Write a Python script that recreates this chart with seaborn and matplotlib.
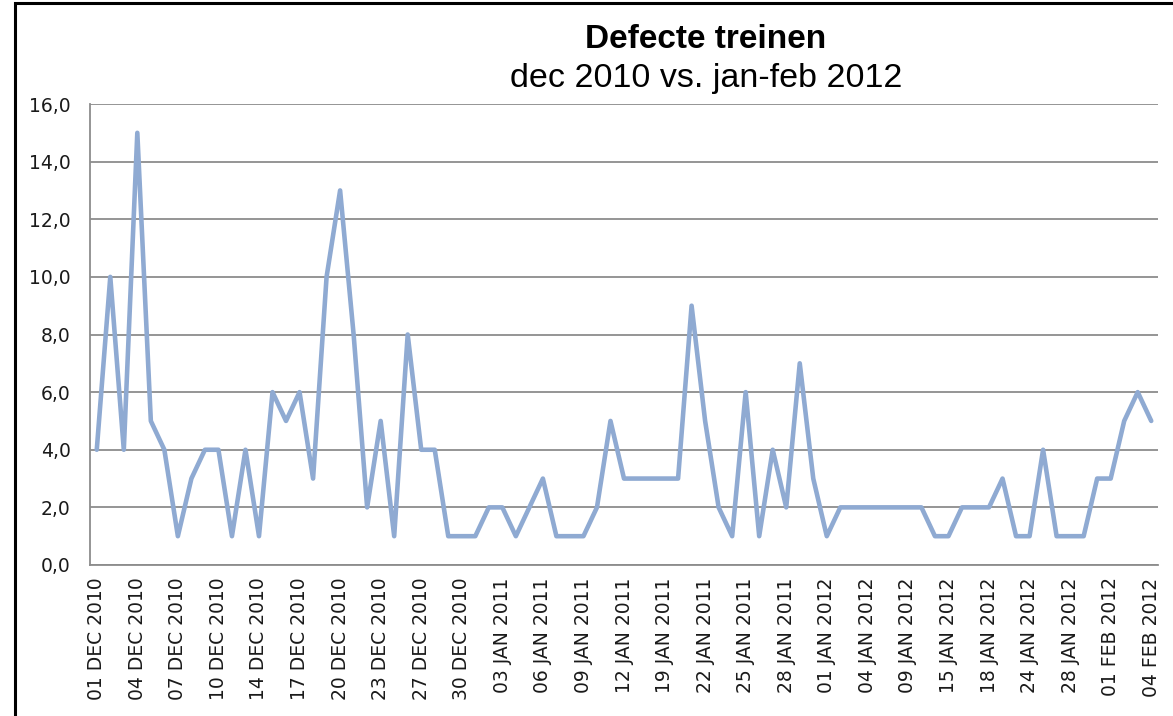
import numpy as np
import pandas as pd
import matplotlib; matplotlib.use("Agg")
import matplotlib.pyplot as plt
import matplotlib.patches as mpatches
from matplotlib.ticker import FuncFormatter, MultipleLocator
import seaborn as sns

# ── DATA ─────────────────────────────────────────────────────────────────────
DEFECTS = [4, 10, 4, 15, 5, 4, 1, 3, 4, 4, 1, 4, 1, 6, 5, 6, 3, 10, 13, 8,
           2, 5, 1, 8, 4, 4, 1, 1, 1, 2, 2, 1, 2, 3, 1, 1, 1, 2, 5, 3,
           3, 3, 3, 3, 9, 5, 2, 1, 6, 1, 4, 2, 7, 3, 1, 2, 2, 2, 2, 2,
           2, 2, 1, 1, 2, 2, 2, 3, 1, 1, 4, 1, 1, 1, 3, 3, 5, 6, 5]
TICK_LABELS = [
    "01 DEC 2010", "04 DEC 2010", "07 DEC 2010", "10 DEC 2010", "14 DEC 2010",
    "17 DEC 2010", "20 DEC 2010", "23 DEC 2010", "27 DEC 2010", "30 DEC 2010",
    "03 JAN 2011", "06 JAN 2011", "09 JAN 2011", "12 JAN 2011", "19 JAN 2011",
    "22 JAN 2011", "25 JAN 2011", "28 JAN 2011", "01 JAN 2012", "04 JAN 2012",
    "09 JAN 2012", "15 JAN 2012", "18 JAN 2012", "24 JAN 2012", "28 JAN 2012",
    "01 FEB 2012", "04 FEB 2012",
]
LABEL_STEP = 3
TITLE = "Defecte treinen"
SUBTITLE = "dec 2010 vs. jan-feb 2012"

LINE = "#8FAAD2"
GRID = "#8C8C8C"

sns.set_style("white")
plt.rcParams["font.family"] = ["DejaVu Sans"]

W, H = 1173, 716
fig = plt.figure(figsize=(W / 100, H / 100), dpi=100)
ax = fig.add_axes([90 / W, 1 - 565 / H, (1158 - 90) / W, (565 - 104) / H])

df = pd.DataFrame({"idx": np.arange(len(DEFECTS)), "defects": DEFECTS})
sns.lineplot(data=df, x="idx", y="defects", ax=ax, color=LINE, linewidth=3.3,
             solid_joinstyle="round", solid_capstyle="round")

n = len(DEFECTS)
ax.set_xlim(-0.5, n - 0.5)
ax.set_ylim(0, 16)
ax.yaxis.set_major_locator(MultipleLocator(2))
ax.yaxis.set_major_formatter(FuncFormatter(lambda v, p: f"{v:.1f}".replace(".", ",")))
ax.grid(axis="y", color=GRID, linewidth=1.3)
ax.set_axisbelow(True)

ax.set_xticks(np.arange(0, n, LABEL_STEP))
ax.set_xticklabels(TICK_LABELS, rotation=90, fontsize=13.5, color="#1a1a1a")
ax.set_xticks(np.arange(-0.5, n, 1), minor=True)
ax.tick_params(axis="x", which="major", length=0, pad=9)
ax.tick_params(axis="x", which="minor", length=7, width=1.2, color=GRID, direction="out")
ax.tick_params(axis="y", length=8, width=1.2, color=GRID, direction="out",
               labelsize=13.5, labelcolor="#1a1a1a", pad=6)
ax.set_xlabel(""); ax.set_ylabel("")

for s in ["top", "right"]:
    ax.spines[s].set_visible(False)
for s in ["left", "bottom"]:
    ax.spines[s].set_color(GRID)
    ax.spines[s].set_linewidth(1.3)

fig.text(706 / W, 1 - 40 / H, TITLE, ha="center", va="center", fontsize=24,
         fontweight="bold", family="Liberation Sans", color="black")
fig.text(706 / W, 1 - 79 / H, SUBTITLE, ha="center", va="center", fontsize=24.5,
         family="Liberation Sans", color="black")

# chart frame (cut off at right and bottom like the original)
fig.patches.append(mpatches.Rectangle((15 / W, -0.1), 1.2, 1.1 - 3 / H,
                                      transform=fig.transFigure, fill=False,
                                      edgecolor="black", linewidth=2.2))

plt.savefig("out.png", dpi=100)
plt.close()
